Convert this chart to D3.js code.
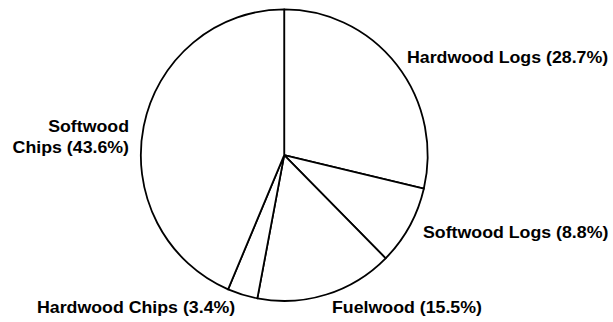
<!DOCTYPE html>
<html>
<head>
<meta charset="utf-8">
<script src="https://cdn.jsdelivr.net/npm/d3@7"></script>
<style>
  html, body { margin: 0; padding: 0; background: #fff; }
  svg { display: block; }
  text { font-family: "Liberation Sans", Arial, sans-serif; font-weight: bold; fill: #000; }
</style>
</head>
<body>
<svg id="chart" width="613" height="322"></svg>
<script>
// Data
const categories = ["Hardwood Logs", "Softwood Logs", "Fuelwood", "Hardwood Chips", "Softwood Chips"];
const values = [28.7, 8.8, 15.5, 3.4, 43.6];
const labelLines = [
  ["Hardwood Logs (28.7%)"],
  ["Softwood Logs (8.8%)"],
  ["Fuelwood (15.5%)"],
  ["Hardwood Chips (3.4%)"],
  ["Softwood", "Chips (43.6%)"]
];

// Layout (not data)
const cx = 284.2, cy = 155.2, rx = 143.5, ry = 145.8;
const xStretch = 1.11;
const labelLayout = [
  { x: 407, y: 63, anchor: "start" },
  { x: 423, y: 238, anchor: "start" },
  { x: 332, y: 313, anchor: "start" },
  { x: 37, y: 313, anchor: "start" },
  { x: 129, y: 131.5, anchor: "end" }
];

const svg = d3.select("#chart");
const pie = d3.pie().sort(null).value(d => d)(values);
const arc = d3.arc().innerRadius(0).outerRadius(1);

const g = svg.append("g")
  .attr("transform", `translate(${cx},${cy}) scale(${rx},${ry})`);

g.selectAll("path")
  .data(pie)
  .join("path")
  .attr("d", arc)
  .attr("fill", "#fff")
  .attr("stroke", "#000")
  .attr("stroke-width", 1.8)
  .attr("stroke-linejoin", "round")
  .attr("vector-effect", "non-scaling-stroke");

labelLines.forEach((lines, i) => {
  const L = labelLayout[i];
  const t = svg.append("text")
    .attr("transform", `translate(${L.x},${L.y}) scale(${xStretch},1)`)
    .attr("text-anchor", L.anchor)
    .style("font-size", "16px");
  lines.forEach((line, j) => {
    t.append("tspan")
      .attr("x", 0)
      .attr("dy", j === 0 ? 0 : 21.5)
      .text(line);
  });
});
</script>
</body>
</html>
